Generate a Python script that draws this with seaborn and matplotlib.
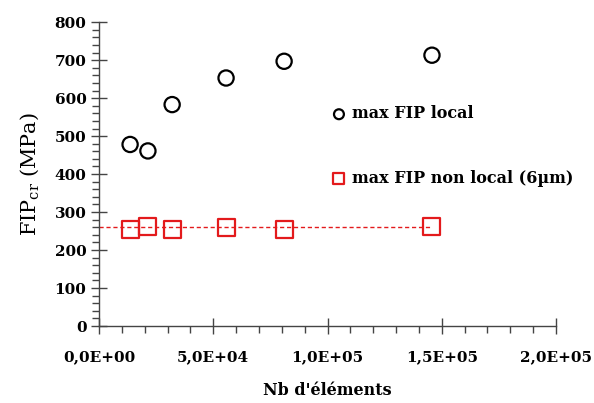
import numpy as np
import pandas as pd
import seaborn as sns
import matplotlib.pyplot as plt
from matplotlib.ticker import MultipleLocator, FuncFormatter

# Data
nb_elements = [13600, 21400, 32000, 55600, 81000, 145700]
fip_local = [478, 461, 583, 653, 697, 713]
fip_nonlocal = [254, 261, 254, 260, 254, 261]
mean_line_x = [0, 145700]
mean_line_y = [260, 260]

df = pd.DataFrame({"nb": nb_elements, "local": fip_local, "nonlocal": fip_nonlocal})

sns.set_style("ticks")
plt.rcParams["font.family"] = ["DejaVu Serif"]
plt.rcParams["mathtext.fontset"] = "dejavuserif"
plt.rcParams["text.color"] = "black"
plt.rcParams["axes.labelcolor"] = "black"
plt.rcParams["xtick.labelcolor"] = "black"
plt.rcParams["ytick.labelcolor"] = "black"

fig = plt.figure(figsize=(5.94, 4.03), dpi=100)
ax = fig.add_axes([0.1667, 0.191, 0.7694, 0.754])

sns.lineplot(x=mean_line_x, y=mean_line_y, ax=ax, color="#e31a1c",
             linestyle=(0, (3, 2)), linewidth=1.0, legend=False)
sns.scatterplot(data=df, x="nb", y="local", ax=ax, marker="o", s=120,
                facecolor="none", edgecolor="black", linewidth=1.6,
                label="max FIP local")
sns.scatterplot(data=df, x="nb", y="nonlocal", ax=ax, marker="s", s=150,
                facecolor="none", edgecolor="#e31a1c", linewidth=1.6,
                label="max FIP non local (6µm)")

ax.set_xlim(0, 2.0e5)
ax.set_ylim(0, 800)
ax.xaxis.set_major_locator(MultipleLocator(5e4))
ax.xaxis.set_minor_locator(MultipleLocator(1e4))
ax.yaxis.set_major_locator(MultipleLocator(100))
ax.yaxis.set_minor_locator(MultipleLocator(20))

def sci_fmt(v, pos):
    m, e = f"{v:.1E}".split("E")
    return f"{m.replace('.', ',')}E{e[0]}{int(e[1:]):02d}"

ax.xaxis.set_major_formatter(FuncFormatter(sci_fmt))
ax.tick_params(which="major", direction="inout", length=11, width=1.0, color="#444444")
ax.tick_params(which="minor", direction="out", length=5, width=1.0, color="#444444")
ax.tick_params(axis="x", which="major", pad=12)
for lab in ax.get_xticklabels() + ax.get_yticklabels():
    lab.set_fontweight("bold")
    lab.set_fontsize(11)

sns.despine(ax=ax)
for s in ["left", "bottom"]:
    ax.spines[s].set_color("#444444")
    ax.spines[s].set_linewidth(1.0)

ax.set_xlabel("Nb d'éléments", fontsize=11.5, fontweight="bold", labelpad=13)
ax.set_ylabel(r"FIP$_\mathrm{cr}$ (MPa)", fontsize=15, labelpad=10)

leg = ax.legend(loc="upper left", bbox_to_anchor=(0.511, 0.726), frameon=False,
                markerscale=0.65, handlelength=0.8, handletextpad=0.4,
                labelspacing=2.95, borderpad=0, borderaxespad=0,
                prop={"weight": "bold", "size": 11.5})

fig.savefig("out.png", dpi=100)
